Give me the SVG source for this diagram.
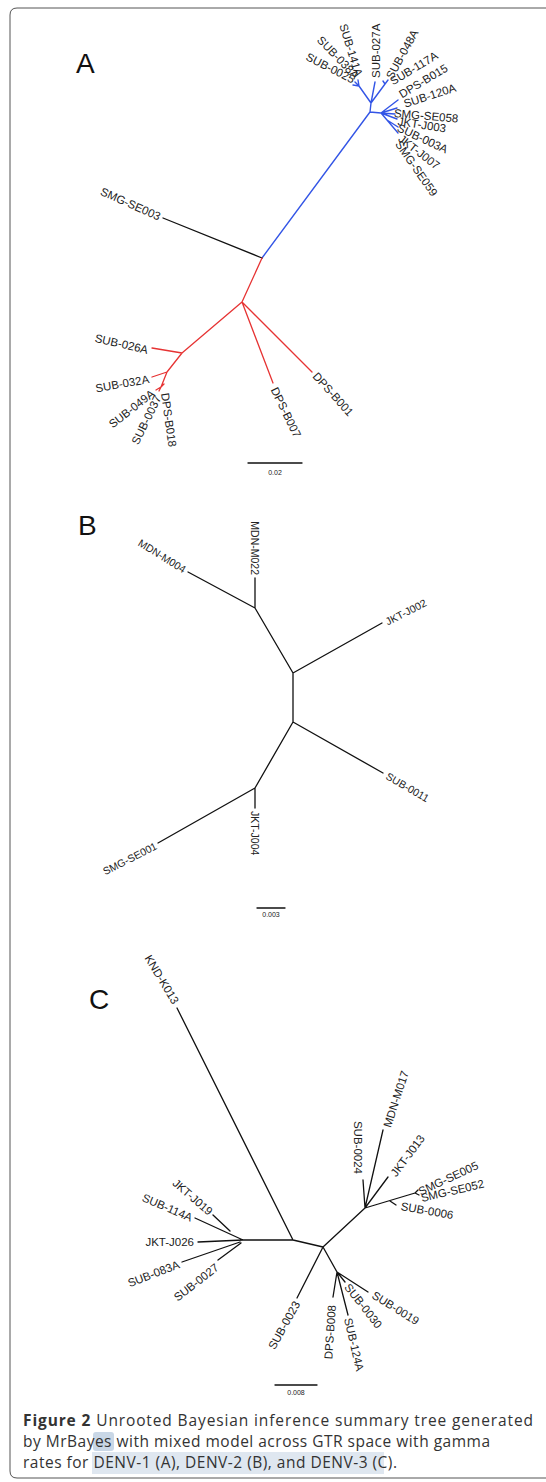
<svg xmlns="http://www.w3.org/2000/svg" width="546" height="1482" viewBox="0 0 546 1482">
<style>
.lbl{font-family:"Liberation Sans",Arial,sans-serif;font-size:11.5px;fill:#222;dominant-baseline:central}
.lb{font-family:"Liberation Sans",Arial,sans-serif;font-size:10.5px;fill:#222;dominant-baseline:central}
.e{text-anchor:end}
.big{font-family:"Liberation Sans",Arial,sans-serif;font-size:28px;fill:#111}
.sc{font-family:"Liberation Sans",Arial,sans-serif;font-size:7px;fill:#222;text-anchor:middle}
.blk{stroke:#111;stroke-width:1.3;fill:none;stroke-linecap:round}
.blu{stroke:#3355e6;stroke-width:1.4;fill:none;stroke-linecap:round}
.red{stroke:#e63333;stroke-width:1.3;fill:none;stroke-linecap:round}
.cap{font-family:"Open Sans","DejaVu Sans",sans-serif;font-size:15.5px;fill:#333}
</style>
<rect width="546" height="1482" fill="#fff"/>
<path d="M560 8 H17 Q10 8 10 15 V1471 Q10 1478 17 1478 H560" fill="none" stroke="#555" stroke-width="1"/>

<g id="panelA">
<text class="big" x="76" y="73">A</text>
<g id="connectorsA">
<path class="blu" d="M262 258 L370 112 M370 112 L371 103 M371 103 L375 82 M371 103 L359 86 M359 86 L355 82 M359 86 L358 80 M359 86 L353 85 M371 103 L385 84 M385 84 L388 80 M385 84 L383 81 M370 112 L381 113 M381 113 L398 100 M381 113 L397 108 M381 113 L395 114 M381 113 L397 119 M381 113 L387 120 M387 120 L398 127 M387 120 L398 133"/>
<path class="blk" d="M163 218 L262 258"/>
<path class="red" d="M262 258 L242 302 M242 302 L182 353 M242 302 L273 383 M242 302 L312 372 M182 353 L152 348 M182 353 L167 372 M167 372 L152 377 M167 372 L161 387 M161 387 L156 390 M161 387 L159 391 M161 387 L164 384"/>
<path class="blk" d="M248 463 H302" stroke-width="1.2"/>
</g>
<g id="labelsA">
<text class="lbl e" transform="translate(354,80) rotate(27)">SUB-0025</text>
<text class="lbl e" transform="translate(357,77) rotate(46)">SUB-038A</text>
<text class="lbl e" transform="translate(359,76) rotate(73)">SUB-141A</text>
<text class="lbl" transform="translate(376,78) rotate(-90)">SUB-027A</text>
<text class="lbl" transform="translate(389,78) rotate(-61)">SUB-048A</text>
<text class="lbl" transform="translate(391,82) rotate(-31)">SUB-117A</text>
<text class="lbl" transform="translate(400,95) rotate(-31)">DPS-B015</text>
<text class="lbl" transform="translate(404,104) rotate(-18)">SUB-120A</text>
<text class="lbl" transform="translate(394,113) rotate(5)">SMG-SE058</text>
<text class="lbl" transform="translate(398,121) rotate(9)">JKT-J003</text>
<text class="lbl" transform="translate(398,127) rotate(25)">SUB-003A</text>
<text class="lbl" transform="translate(400,137) rotate(38)">JKT-J007</text>
<text class="lbl" transform="translate(398,142) rotate(55)">SMG-SE059</text>
<text class="lbl e" transform="translate(160,217) rotate(24)">SMG-SE003</text>
<text class="lbl e" transform="translate(148,350) rotate(13)">SUB-026A</text>
<text class="lbl e" transform="translate(149,379) rotate(-10)">SUB-032A</text>
<text class="lbl e" transform="translate(153,392) rotate(-38)">SUB-049A</text>
<text class="lbl e" transform="translate(158,396) rotate(-64)">SUB-0037</text>
<text class="lbl" transform="translate(165,393) rotate(82)">DPS-B018</text>
<text class="lbl" transform="translate(274,388) rotate(64)">DPS-B007</text>
<text class="lbl" transform="translate(315,374) rotate(48)">DPS-B001</text>
<text class="sc" x="275" y="475">0.02</text>
</g>
</g>

<g id="panelB">
<text class="big" x="78" y="535">B</text>
<g id="connectorsB">
<path class="blk" d="M188 572 L255 608 M255 578 L255 608 M255 608 L293 673 M293 673 L382 623 M293 673 L293 722 M293 722 L383 773 M293 722 L255 788 M255 788 L255 808 M255 788 L158 843"/>
<path class="blk" d="M257 908 H285" stroke-width="1.1"/>
</g>
<g id="labelsB">
<text class="lb e" transform="translate(185,570) rotate(32)">MDN-M004</text>
<text class="lb e" transform="translate(255,575) rotate(90)">MDN-M022</text>
<text class="lb" transform="translate(386,622) rotate(-27)">JKT-J002</text>
<text class="lb" transform="translate(387,775) rotate(30)">SUB-0011</text>
<text class="lb" transform="translate(255,811) rotate(90)">JKT-J004</text>
<text class="lb e" transform="translate(156,845) rotate(-27)">SMG-SE001</text>
<text class="sc" x="271" y="917">0.003</text>
</g>
</g>

<g id="panelC">
<text class="big" x="89" y="1009">C</text>
<g id="connectorsC">
<path class="blk" d="M177 1008 L293 1240 M243 1240 L293 1240 M293 1240 L323 1247 M243 1240 L195 1218 M230 1231 L213 1215 M243 1240 L198 1242 M240 1242 L182 1262 M241 1243 L218 1260 M323 1247 L297 1298 M323 1247 L337 1272 M337 1272 L333 1297 M337 1272 L348 1315 M337 1272 L345 1282 M337 1272 L368 1292 M323 1247 L365 1208 M365 1208 L363 1180 M365 1208 L383 1130 M365 1208 L388 1177 M365 1208 L415 1193 M390 1201 L396 1205 M415 1193 L418 1190 M415 1193 L419 1195"/>
<path class="blk" d="M275 1385 H317" stroke-width="1.2"/>
</g>
<g id="labelsC">
<text class="lbl e" transform="translate(176,1003) rotate(59)">KND-K013</text>
<text class="lbl e" transform="translate(211,1213) rotate(41)">JKT-J019</text>
<text class="lbl e" transform="translate(192,1218) rotate(23)">SUB-114A</text>
<text class="lbl e" transform="translate(194,1242)">JKT-J026</text>
<text class="lbl e" transform="translate(179,1264) rotate(-21)">SUB-083A</text>
<text class="lbl e" transform="translate(217,1266) rotate(-38)">SUB-0027</text>
<text class="lbl e" transform="translate(297,1302) rotate(-61)">SUB-0023</text>
<text class="lbl e" transform="translate(332,1305) rotate(-86)">DPS-B008</text>
<text class="lbl" transform="translate(348,1318) rotate(77)">SUB-124A</text>
<text class="lbl" transform="translate(347,1285) rotate(52)">SUB-0030</text>
<text class="lbl" transform="translate(373,1294) rotate(32)">SUB-0019</text>
<text class="lbl e" transform="translate(358,1174) rotate(90)">SUB-0024</text>
<text class="lbl" transform="translate(387,1127) rotate(-72)">MDN-M017</text>
<text class="lbl" transform="translate(393,1175) rotate(-53)">JKT-J013</text>
<text class="lbl" transform="translate(419,1192) rotate(-25)">SMG-SE005</text>
<text class="lbl" transform="translate(421,1198) rotate(-13)">SMG-SE052</text>
<text class="lbl" transform="translate(401,1206) rotate(10)">SUB-0006</text>
<text class="sc" x="296" y="1395">0.008</text>
</g>
</g>

<g id="caption">
<rect x="92" y="1452" width="292" height="22" fill="#dfe7f0"/>
<rect x="93" y="1432" width="21" height="19" rx="3" fill="#c9d7e6"/>
<text class="cap" x="23" y="1426" textLength="510" lengthAdjust="spacing"><tspan font-weight="bold">Figure 2</tspan> Unrooted Bayesian inference summary tree generated</text>
<text class="cap" x="23" y="1447" textLength="467" lengthAdjust="spacing">by MrBayes with mixed model across GTR space with gamma</text>
<text class="cap" x="23" y="1468" textLength="374" lengthAdjust="spacing">rates for DENV-1 (A), DENV-2 (B), and DENV-3 (C).</text>
</g>
</svg>
